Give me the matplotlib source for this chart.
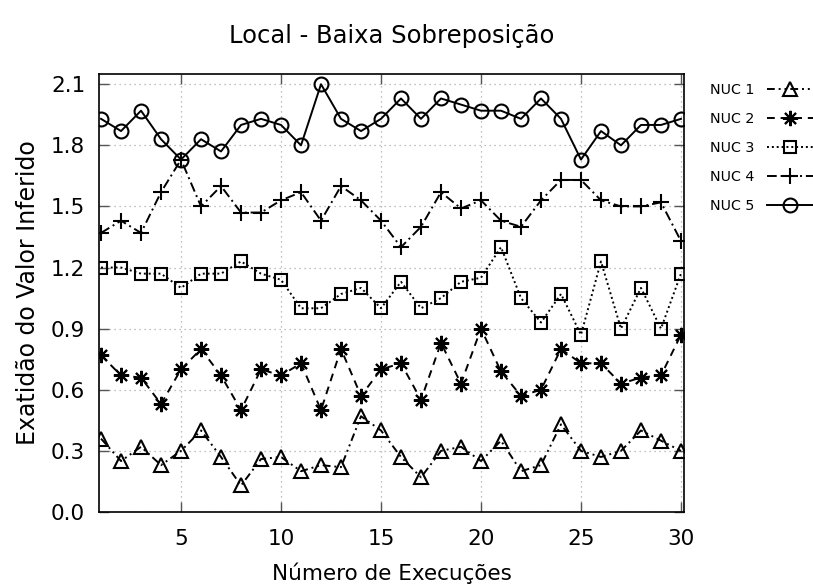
import matplotlib
matplotlib.use('Agg')
import matplotlib.pyplot as plt

plt.rcParams['font.family'] = 'DejaVu Sans'

# Execuções 1..30
execucoes = list(range(1, 31))

nuc1 = [0.36, 0.25, 0.32, 0.23, 0.30, 0.40, 0.27, 0.13, 0.26, 0.27,
        0.20, 0.23, 0.22, 0.47, 0.40, 0.27, 0.17, 0.30, 0.32, 0.25,
        0.35, 0.20, 0.23, 0.43, 0.30, 0.27, 0.30, 0.40, 0.35, 0.30]
nuc2 = [0.77, 0.67, 0.66, 0.53, 0.70, 0.80, 0.67, 0.50, 0.70, 0.67,
        0.73, 0.50, 0.80, 0.57, 0.70, 0.73, 0.55, 0.83, 0.63, 0.90,
        0.69, 0.57, 0.60, 0.80, 0.73, 0.73, 0.63, 0.66, 0.67, 0.87]
nuc3 = [1.20, 1.20, 1.17, 1.17, 1.10, 1.17, 1.17, 1.23, 1.17, 1.14,
        1.00, 1.00, 1.07, 1.10, 1.00, 1.13, 1.00, 1.05, 1.13, 1.15,
        1.30, 1.05, 0.93, 1.07, 0.87, 1.23, 0.90, 1.10, 0.90, 1.17]
nuc4 = [1.37, 1.43, 1.37, 1.57, 1.73, 1.50, 1.60, 1.47, 1.47, 1.53,
        1.57, 1.43, 1.60, 1.53, 1.43, 1.30, 1.40, 1.57, 1.49, 1.53,
        1.43, 1.40, 1.53, 1.63, 1.63, 1.53, 1.50, 1.50, 1.52, 1.33]
nuc5 = [1.93, 1.87, 1.97, 1.83, 1.73, 1.83, 1.77, 1.90, 1.93, 1.90,
        1.80, 2.10, 1.93, 1.87, 1.93, 2.03, 1.93, 2.03, 2.00, 1.97,
        1.97, 1.93, 2.03, 1.93, 1.73, 1.87, 1.80, 1.90, 1.90, 1.93]

series = [nuc1, nuc2, nuc3, nuc4, nuc5]
rotulos = ['NUC 1', 'NUC 2', 'NUC 3', 'NUC 4', 'NUC 5']
estilos = [(0, (4, 2, 1, 2, 1, 2)), (0, (4, 3)), (0, (1, 1.5)), (0, (5, 2, 1, 2)), '-']
marcadores = ['^', (8, 2, 0), 's', '+', 'o']
tamanhos = [10, 11, 9, 11, 10]

yticks = [0.0, 0.3, 0.6, 0.9, 1.2, 1.5, 1.8, 2.1]
xticks = [5, 10, 15, 20, 25, 30]

fig = plt.figure(figsize=(8.13, 5.88), dpi=100)
ax = fig.add_axes([0.1218, 0.1293, 0.7195, 0.7448])

for y, rot, ls, mk, ms in zip(series, rotulos, estilos, marcadores, tamanhos):
    ax.plot(execucoes, y, linestyle=ls, marker=mk, markersize=ms,
            markerfacecolor='none', markeredgecolor='black', markeredgewidth=1.5,
            color='black', linewidth=1.4, label=rot)

ax.set_xlim(0.9, 30.15)
ax.set_ylim(0, 2.15)
ax.set_xticks(xticks)
ax.set_yticks(yticks)
ax.set_yticklabels([f'{v:.1f}' for v in yticks])
ax.tick_params(direction='in', length=7, width=1, top=True, right=True,
               labelsize=15.5, pad=10, color='#555555')
ax.tick_params(axis='x', pad=12)
ax.grid(True, linestyle=(0, (1, 3)), linewidth=0.9, color='#aaaaaa')
for s in ax.spines.values():
    s.set_linewidth(1.2)

ax.set_title('Local - Baixa Sobreposição', fontsize=17.5, pad=22)
ax.set_xlabel('Número de Execuções', fontsize=15.5, labelpad=10)
ax.set_ylabel('Exatidão do Valor Inferido', fontsize=17, labelpad=8)

# legenda fora do gráfico, à direita, com a amostra depois do texto
leg = ax.legend(loc='upper left', bbox_to_anchor=(0.873, 0.859),
                bbox_transform=fig.transFigure, frameon=False, markerfirst=False,
                fontsize=10.3, handlelength=3.2, handletextpad=0.9,
                labelspacing=1.05, borderaxespad=0, borderpad=0)

fig.savefig('out.png', dpi=100, facecolor='white')
